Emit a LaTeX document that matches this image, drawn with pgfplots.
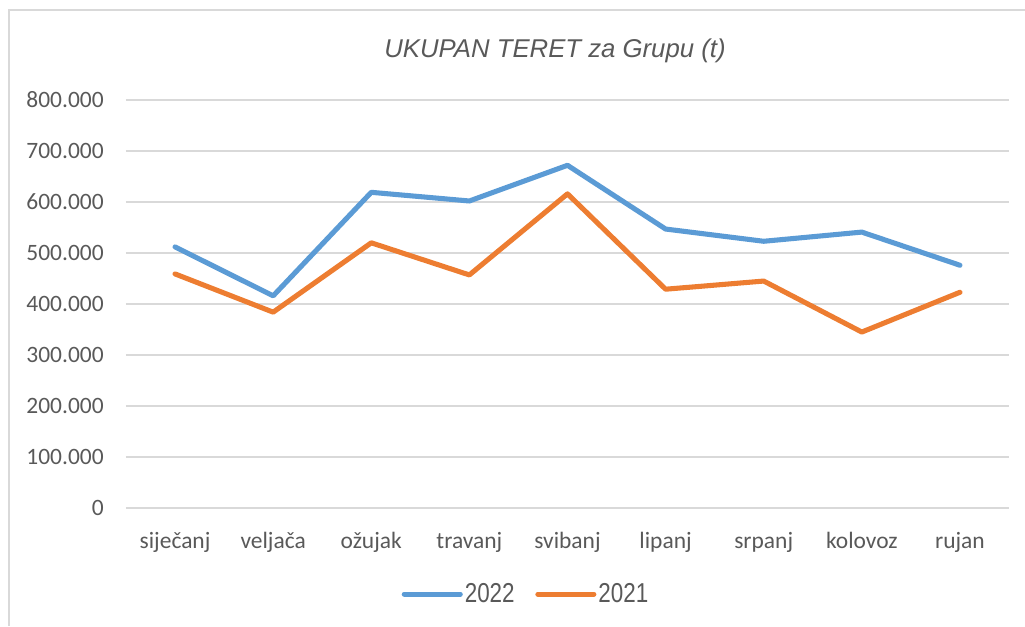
\documentclass[border=0pt]{standalone}
\usepackage{pgfplots}
\pgfplotsset{compat=1.18}
\usepackage{fontspec}
\setmainfont{Carlito}
\newfontfamily\titlefont{Liberation Sans}
\newfontfamily\legfont[FakeStretch=0.82]{Liberation Sans}
\definecolor{cblue}{HTML}{5B9BD5}
\definecolor{corange}{HTML}{ED7D31}
\definecolor{cgrid}{HTML}{D9D9D9}
\definecolor{ctext}{HTML}{595959}
\begin{document}
\begin{tikzpicture}[x=0.75pt,y=0.75pt]
\useasboundingbox (0,0) rectangle (1025,626);
\draw[cgrid, line width=1.2pt] (9,0) -- (9,616) -- (1025,616);
\node[font=\titlefont\itshape\fontsize{19.3}{22}\selectfont, text=ctext, inner sep=0pt] at (555,575) {UKUPAN TERET za Grupu (t)};
\begin{axis}[
  at={(94.5pt,88.5pt)}, anchor=south west,
  width=662.25pt, height=306pt, scale only axis,
  xmin=-0.5, xmax=8.5, ymin=0, ymax=800,
  axis line style={draw=none},
  major tick length=0pt,
  ymajorgrids, grid style={cgrid, line width=1.1pt},
  xtick={0,...,8},
  xticklabels={siječanj,veljača,ožujak,travanj,svibanj,lipanj,srpanj,kolovoz,rujan},
  ytick={0,100,...,800},
  yticklabels={0,100.000,200.000,300.000,400.000,500.000,600.000,700.000,800.000},
  ticklabel style={font=\fontsize{17.6}{20}\selectfont, text=ctext, inner sep=0pt},
  xticklabel style={anchor=base, yshift=-30pt},
  yticklabel style={anchor=east, xshift=-16.5pt},
  legend columns=2,
  legend style={at={(0.453,-0.211)}, anchor=center, draw=none, fill=none,
    font=\legfont\fontsize{20.5}{22}\selectfont, text=ctext,
    nodes={inner sep=1.5pt},
    /tikz/every even column/.append style={column sep=14pt}},
  legend image code/.code={\draw[#1, line cap=round] (0pt,0pt) -- (42pt,0pt);},
  every axis plot/.append style={line width=3.8pt, line join=round, line cap=round, mark=none},
]
\addplot[cblue] coordinates {(0,512) (1,416) (2,619) (3,602) (4,672) (5,547) (6,523) (7,541) (8,476)};
\addlegendentry{2022}
\addplot[corange] coordinates {(0,459) (1,384) (2,520) (3,457) (4,616) (5,429) (6,445) (7,345) (8,423)};
\addlegendentry{2021}
\end{axis}
\end{tikzpicture}
\end{document}
